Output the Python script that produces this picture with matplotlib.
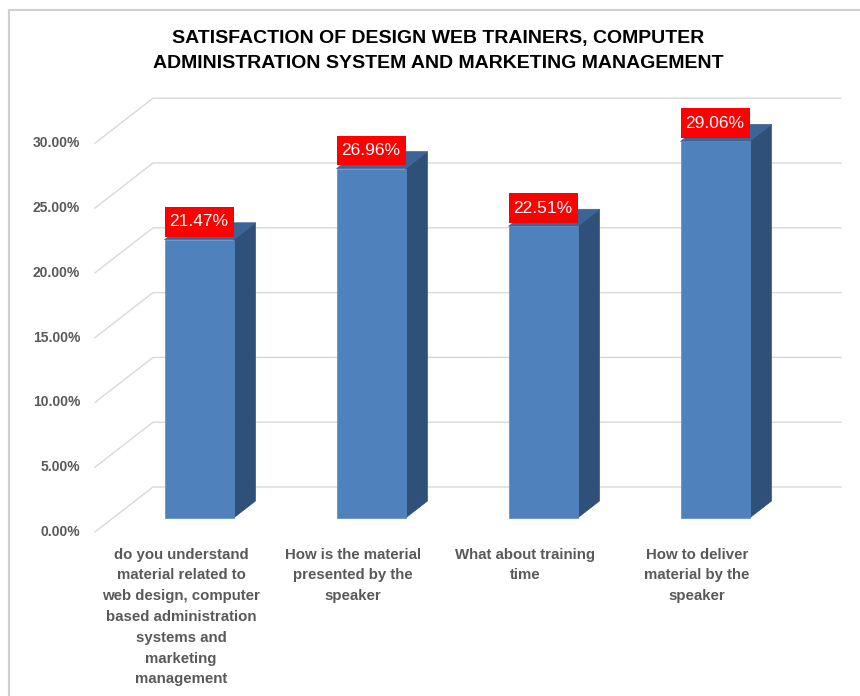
import matplotlib
matplotlib.use('Agg')
import matplotlib.pyplot as plt
from matplotlib.patches import Polygon, Rectangle
from matplotlib.lines import Line2D

categories = [
    'do you understand\nmaterial related to\nweb design, computer\nbased administration\nsystems and\nmarketing\nmanagement',
    'How is the material\npresented by the\nspeaker',
    'What about training\ntime',
    'How to deliver\nmaterial by the\nspeaker',
]
values = [21.47, 26.96, 22.51, 29.06]
ticks = [0, 5, 10, 15, 20, 25, 30]
tick_labels = ['0.00%', '5.00%', '10.00%', '15.00%', '20.00%', '25.00%', '30.00%']
title = 'SATISFACTION OF DESIGN WEB TRAINERS, COMPUTER\nADMINISTRATION SYSTEM AND MARKETING MANAGEMENT'

W, H = 860, 696
PX_U, PX_V = 172.0, 12.96       # pixels per category / per percent
U0, V0 = 181.0, 532.0           # pixel position of category 0 / 0% on front plane
DU, DV = 58 / PX_U, 45 / PX_V   # depth of the floor in data units
F1, F2 = 14 / 45, 31 / 45       # bar front / back depth fractions
HW = 34.5 / PX_U                # half bar width

FRONT, SIDE, TOP = '#4F81BD', '#2F5078', '#3D6397'
GRID = '#D9D9D9'
TXT = '#595959'

plt.rcParams['font.family'] = ['Liberation Sans', 'DejaVu Sans']

fig = plt.figure(figsize=(W / 100, H / 100), dpi=100)
ax = fig.add_axes([0, 0, 1, 1])
ax.set_xlim(-U0 / PX_U, (W - U0) / PX_U)
ax.set_ylim((V0 - H) / PX_V, V0 / PX_V)
ax.axis('off')

# outer chart border
fig.add_artist(Line2D([8.5 / W, 8.5 / W], [0, 1 - 9.5 / H], color='#D0D0D0', lw=1.5))
fig.add_artist(Line2D([8.5 / W, 1], [1 - 9.5 / H, 1 - 9.5 / H], color='#D0D0D0', lw=1.5))

# wall / floor gridlines
n = len(values)
for t, lab in zip(ticks, tick_labels):
    ax.plot([-0.5, -0.5 + DU, n - 0.5 + DU], [t, t + DV, t + DV], color=GRID, lw=1, zorder=1)
    ax.text(-0.587, t, lab, ha='right', va='center', fontsize=10, fontweight='bold', color=TXT)

du = (F2 - F1) * DU
dv = (F2 - F1) * DV
for i, (cat, v) in enumerate(zip(categories, values)):
    uc = i + F1 * DU
    uL, uR = uc - HW, uc + HW
    vb = F1 * DV
    vt = vb + v
    ax.add_patch(Polygon([(uR, vb), (uR + du, vb + dv), (uR + du, vt + dv), (uR, vt)],
                         closed=True, fc=SIDE, ec=SIDE, lw=0.5, zorder=2))
    ax.add_patch(Polygon([(uL, vt), (uR, vt), (uR + du, vt + dv), (uL + du, vt + dv)],
                         closed=True, fc=TOP, ec=TOP, lw=0.5, zorder=2))
    ax.add_patch(Rectangle((uL, vb), 2 * HW, v, fc=FRONT, ec='#5A8AC4', lw=0.5, zorder=3))
    # data label
    ax.add_patch(Rectangle((uL, vt + 0.25), 2 * HW, 2.3, fc='#FF0000', ec='none', zorder=4))
    ax.text(uc, vt + 0.25 + 1.15, f'{v:.2f}%', ha='center', va='center',
            fontsize=12.5, color='white', zorder=5)
    # category label
    ax.text(i, -1.2, cat, ha='center', va='top', fontsize=10.8, fontweight='bold',
            color=TXT, linespacing=1.62)

fig.text(438 / W, 1 - 51 / H, title, ha='center', va='center', fontsize=14,
         fontweight='bold', color='black', linespacing=1.65)

fig.savefig('out.png', dpi=100, facecolor='white')
